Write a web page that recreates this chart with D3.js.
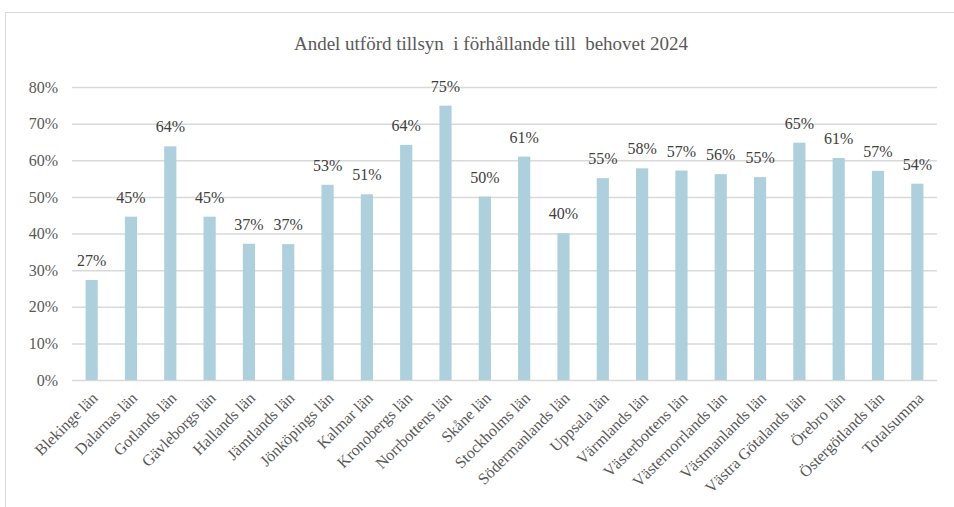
<!DOCTYPE html>
<html>
<head>
<meta charset="utf-8">
<script src="https://cdn.jsdelivr.net/npm/d3@7"></script>
<style>
  body { margin: 0; background: #fff; }
</style>
</head>
<body>
<svg id="chart" width="954" height="507"></svg>
<script>
// Data
var categories = ["Blekinge län", "Dalarnas län", "Gotlands län", "Gävleborgs län", "Hallands län",
  "Jämtlands län", "Jönköpings län", "Kalmar län", "Kronobergs län", "Norrbottens län", "Skåne län",
  "Stockholms län", "Södermanlands län", "Uppsala län", "Värmlands län", "Västerbottens län",
  "Västernorrlands län", "Västmanlands län", "Västra Götalands län", "Örebro län", "Östergötlands län",
  "Totalsumma"];
var values = [27.3, 44.6, 63.8, 44.6, 37.2, 37.1, 53.3, 50.7, 64.2, 74.9, 50.1, 61.0, 40.1, 55.1,
  57.8, 57.2, 56.2, 55.4, 64.8, 60.6, 57.1, 53.6];
var yTicks = [0, 10, 20, 30, 40, 50, 60, 70, 80];
var title = "Andel utförd tillsyn  i förhållande till  behovet 2024";

var FONT = "'Liberation Serif', 'Times New Roman', serif";

var svg = d3.select("#chart");

// ram runt diagrammet (fortsätter utanför bilden nedåt/höger)
svg.append("rect")
  .attr("x", 5.5).attr("y", 12.5)
  .attr("width", 980).attr("height", 520)
  .attr("fill", "none").attr("stroke", "#d9d9d9").attr("stroke-width", 1);

var margin = {top: 87, left: 72, right: 17, bottom: 127};
var width = 954 - margin.left - margin.right,
    height = 507 - margin.top - margin.bottom;

var g = svg.append("g").attr("transform", "translate(" + margin.left + "," + margin.top + ")");

var x = d3.scaleBand().domain(categories).range([0, width]).paddingInner(0.69).paddingOuter(0.345);
var y = d3.scaleLinear().domain([0, 80]).range([height, 0]);

// titel
svg.append("text")
  .attr("x", 491).attr("y", 50)
  .attr("text-anchor", "middle")
  .style("font-family", FONT)
  .style("font-size", "19px")
  .style("white-space", "pre")
  .attr("fill", "#595959")
  .text(title);

// rutnät + y-axel
var yAxis = g.append("g")
  .call(d3.axisLeft(y).tickValues(yTicks).tickSize(-width).tickFormat(function(d) { return d + "%"; }));
yAxis.select(".domain").remove();
yAxis.selectAll(".tick line").attr("stroke", "#d9d9d9").attr("stroke-width", 1.5);
yAxis.selectAll(".tick text")
  .attr("x", -14)
  .style("font-family", FONT)
  .style("font-size", "16px")
  .attr("fill", "#595959");

// staplar
g.selectAll(".bar")
  .data(values)
  .enter().append("rect")
  .attr("class", "bar")
  .attr("x", function(d, i) { return x(categories[i]); })
  .attr("y", function(d) { return y(d); })
  .attr("width", x.bandwidth())
  .attr("height", function(d) { return height - y(d); })
  .attr("fill", "#aed0dc");

// dataetiketter
g.selectAll(".lbl")
  .data(values)
  .enter().append("text")
  .attr("class", "lbl")
  .attr("x", function(d, i) { return x(categories[i]) + x.bandwidth() / 2; })
  .attr("y", function(d) { return y(d) - 14; })
  .attr("text-anchor", "middle")
  .style("font-family", FONT)
  .style("font-size", "16px")
  .attr("fill", "#404040")
  .text(function(d) { return Math.round(d) + "%"; });

// x-axel
var xAxis = g.append("g")
  .attr("transform", "translate(0," + height + ")")
  .call(d3.axisBottom(x).tickSize(0));
xAxis.select(".domain").remove();
xAxis.selectAll(".tick text")
  .style("font-family", FONT)
  .style("font-size", "16px")
  .attr("fill", "#595959")
  .attr("text-anchor", "end")
  .attr("dy", null)
  .attr("transform", "translate(5,17) rotate(-45)");
</script>
</body>
</html>
